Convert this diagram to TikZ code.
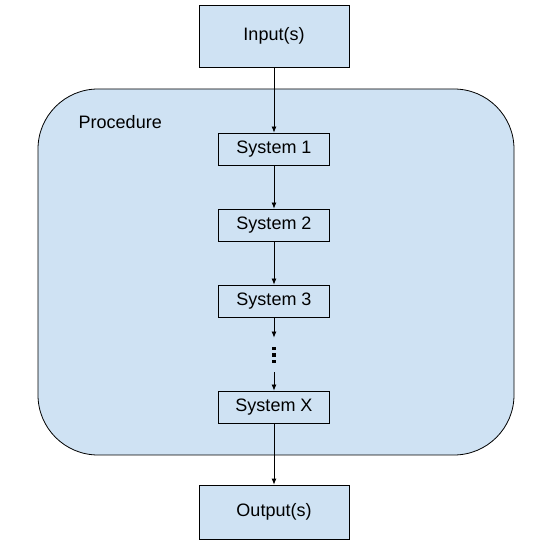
\documentclass[tikz,border=0pt]{standalone}
\usepackage{fontspec}
\setmainfont{Liberation Sans}
\usetikzlibrary{arrows.meta}
\definecolor{boxblue}{HTML}{CFE2F3}
\tikzset{
  sysbox/.style={draw,fill=boxblue,minimum width=111pt,minimum height=32pt,inner sep=0pt},
  iobox/.style={draw,fill=boxblue,minimum width=150pt,inner sep=0pt},
}
\begin{document}
\begin{tikzpicture}[>={Latex[length=6pt,width=5pt]},x=1pt,y=-1pt,line width=0.8pt,font=\fontsize{18}{21}\selectfont]
        \useasboundingbox(0,0)rectangle(552,545);
        \draw[fill=boxblue,rounded corners=60pt](38,89)rectangle(514,455);
        \node[anchor=west](proc)at(75,122){Procedure};
        \node[iobox,minimum height=62pt](in)at(274,36){Input(s)};
        \node[sysbox](s1)at(274,149){System 1};
        \node[sysbox](s2)at(274,225){System 2};
        \node[sysbox](s3)at(274,301){System 3};
        \node[inner sep=0pt,minimum height=34pt,minimum width=6pt](dots)at(274,355){};
        \foreach \y in {-6.5,0,6.5}
            \fill(dots.center)++(-1.6,\y-1.6)rectangle++(3.2,3.2);
        \node[sysbox](sx)at(274,407){System X};
        \node[iobox,minimum height=54pt](out)at(274,512){Output(s)};
        \draw[->](in)--(s1);
        \draw[->](s1)--(s2);
        \draw[->](s2)--(s3);
        \draw[->](s3)--(dots);
        \draw[->](dots)--(sx);
        \draw[->](sx)--(out);
    \end{tikzpicture}
\end{document}
